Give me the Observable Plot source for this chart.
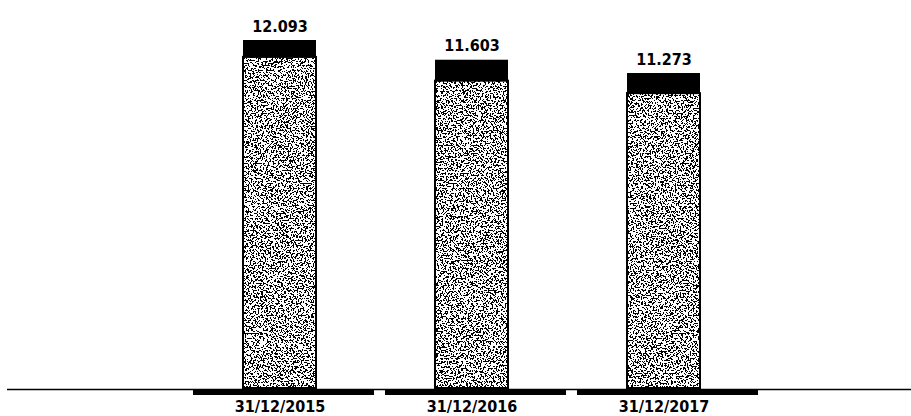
<!DOCTYPE html>
<html>
<head>
<meta charset="utf-8">
<script src="https://cdn.jsdelivr.net/npm/d3@7"></script>
<script src="https://cdn.jsdelivr.net/npm/@observablehq/plot@0.6"></script>
<style>
  html, body { margin: 0; padding: 0; background: #fff; }
</style>
</head>
<body>
<div id="chart"></div>
<script>
const dates = ["31/12/2015", "31/12/2016", "31/12/2017"];
const totals = [12093, 11603, 11273];
const capParts = [420, 520, 500];
const valueLabels = ["12.093", "11.603", "11.273"];
const yMin = 3450;

const data = dates.map((d, i) => ({
  date: d,
  total: totals[i],
  base: totals[i] - capParts[i],
  label: valueLabels[i]
}));

const plot = Plot.plot({
  width: 911,
  height: 416,
  marginLeft: 7,
  marginRight: 0,
  marginTop: 0,
  marginBottom: 27,
  style: { fontFamily: "'DejaVu Sans Condensed', 'DejaVu Sans', sans-serif", background: "#fff" },
  x: { type: "band", domain: dates, range: [183, 759], paddingInner: 0.62, paddingOuter: 0.31, axis: null, label: null },
  y: { domain: [yMin, 12093], range: [388, 40], axis: null, label: null },
  marks: [
    Plot.ruleY([yMin], { stroke: "#000", strokeWidth: 1.5, dy: 1 }),
    Plot.tickY(data, { x: "date", y: () => yMin, stroke: "#000", strokeWidth: 5, dy: 4, insetLeft: -50, insetRight: -58 }),
    Plot.barY(data, { x: "date", y1: () => yMin, y2: "base", fill: "#fff", stroke: "#000", strokeWidth: 2, className: "stippled" }),
    Plot.barY(data, { x: "date", y1: "base", y2: "total", fill: "#000" }),
    Plot.text(data, { x: "date", y: "total", text: "label", lineAnchor: "bottom", dy: -9, fontSize: 16, fontWeight: "bold", fill: "#000" }),
    Plot.axisX({ tickSize: 0, tickPadding: 11, fontSize: 16, fontWeight: "bold", fill: "#000", label: null })
  ]
});

const svg = d3.select(plot);
const defs = svg.insert("defs", ":first-child");
const f = defs.append("filter").attr("id", "stipple")
  .attr("x", "-0.1").attr("y", "-0.01").attr("width", "1.2").attr("height", "1.02");
f.append("feTurbulence").attr("type", "fractalNoise").attr("baseFrequency", "0.6")
  .attr("numOctaves", "2").attr("seed", "7").attr("result", "noise");
f.append("feColorMatrix").attr("in", "noise").attr("type", "matrix")
  .attr("values", "0 0 0 0 0  0 0 0 0 0  0 0 0 0 0  1 0 0 0 -0.04").attr("result", "a");
const ct = f.append("feComponentTransfer").attr("in", "a").attr("result", "dots");
ct.append("feFuncA").attr("type", "discrete").attr("tableValues", "0 1");
f.append("feComposite").attr("in", "dots").attr("in2", "SourceGraphic").attr("operator", "in").attr("result", "clipped");
const m = f.append("feMerge");
m.append("feMergeNode").attr("in", "SourceGraphic");
m.append("feMergeNode").attr("in", "clipped");
svg.selectAll(".stippled rect").attr("filter", "url(#stipple)");

document.getElementById("chart").appendChild(plot);
</script>
</body>
</html>
